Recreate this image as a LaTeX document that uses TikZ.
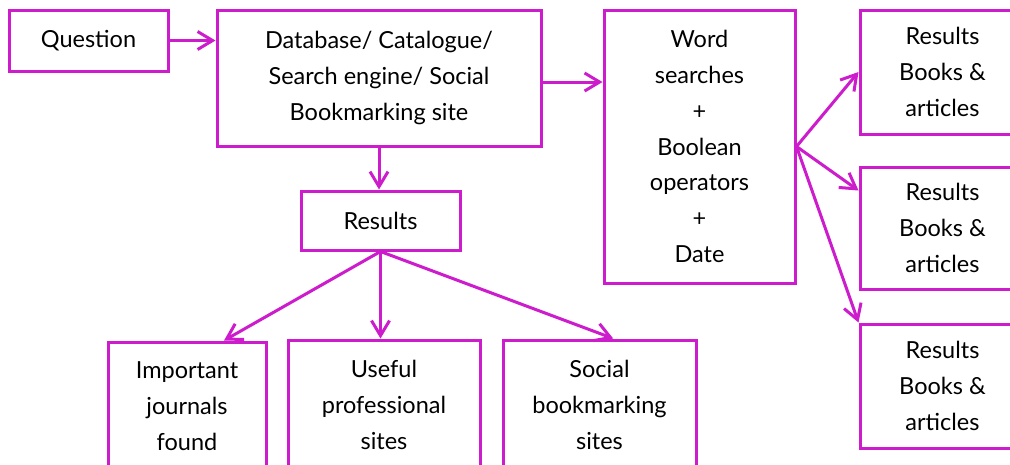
\documentclass[tikz,border=0pt]{standalone}
\usepackage{fontspec}
\setmainfont{Lato}
\usetikzlibrary{arrows.meta,calc}
\definecolor{mag}{RGB}{204,28,204}
\begin{document}
\begin{tikzpicture}[x=1pt,y=-1pt,
  box/.style={draw=mag,line width=3pt,align=center,inner sep=0pt,
    font=\fontsize{23.5}{35.7}\selectfont,text=black},
  conn/.style={draw=mag,line width=3pt,-{Straight Barb[length=15pt,width=18pt,line width=3pt]}}]
\useasboundingbox (0,0) rectangle (1010,464);
\clip (0,0) rectangle (1010,464);
\node[box,minimum width=159pt,minimum height=61pt] (Q) at (88.5,40.5) {Question};
\node[box,minimum width=324pt,minimum height=136pt] (DB) at (379,78) {Database/ Catalogue/\\Search engine/ Social\\Bookmarking site};
\node[box,minimum width=159pt,minimum height=59pt] (Res) at (380.5,220.5) {Results};
\node[box,minimum width=191pt,minimum height=273pt] (W) at (699.5,146.5) {Word\\searches\\+\\Boolean\\operators\\+\\Date};
\node[box,minimum width=165pt,minimum height=124pt] (R1) at (942.5,72) {Results\\Books \&\\articles};
\node[box,minimum width=165pt,minimum height=122pt] (R2) at (942.5,228) {Results\\Books \&\\articles};
\node[box,minimum width=165pt,minimum height=124pt] (R3) at (942.5,386) {Results\\Books \&\\articles};
\node[box,minimum width=158pt,minimum height=128pt] (Imp) at (187,406) {Important\\journals\\found};
\node[box,minimum width=192pt,minimum height=130pt] (Use) at (384,405) {Useful\\professional\\sites};
\node[box,minimum width=193pt,minimum height=130pt] (Soc) at (599.5,405) {Social\\bookmarking\\sites};
\draw[conn] (Q.east) -- (Q.east -| DB.west);
\draw[conn] ($(DB.east)+(0,4)$) -- ($(DB.east -| W.west)+(0,4)$);
\draw[conn] (DB.south) -- (DB.south |- Res.north);
\draw[conn] (W.east) -- (R1.west);
\draw[conn] (W.east) -- ($(R2.north west)!0.2!(R2.south west)$);
\draw[conn] (W.east) -- (R3.north west);
\draw[conn] (Res.south) -- ($(Imp.north west)!0.73!(Imp.north east)$);
\draw[conn] (Res.south) -- (Res.south |- Use.north);
\draw[conn] (Res.south) -- ($(Soc.north west)!0.57!(Soc.north east)$);
\end{tikzpicture}
\end{document}
